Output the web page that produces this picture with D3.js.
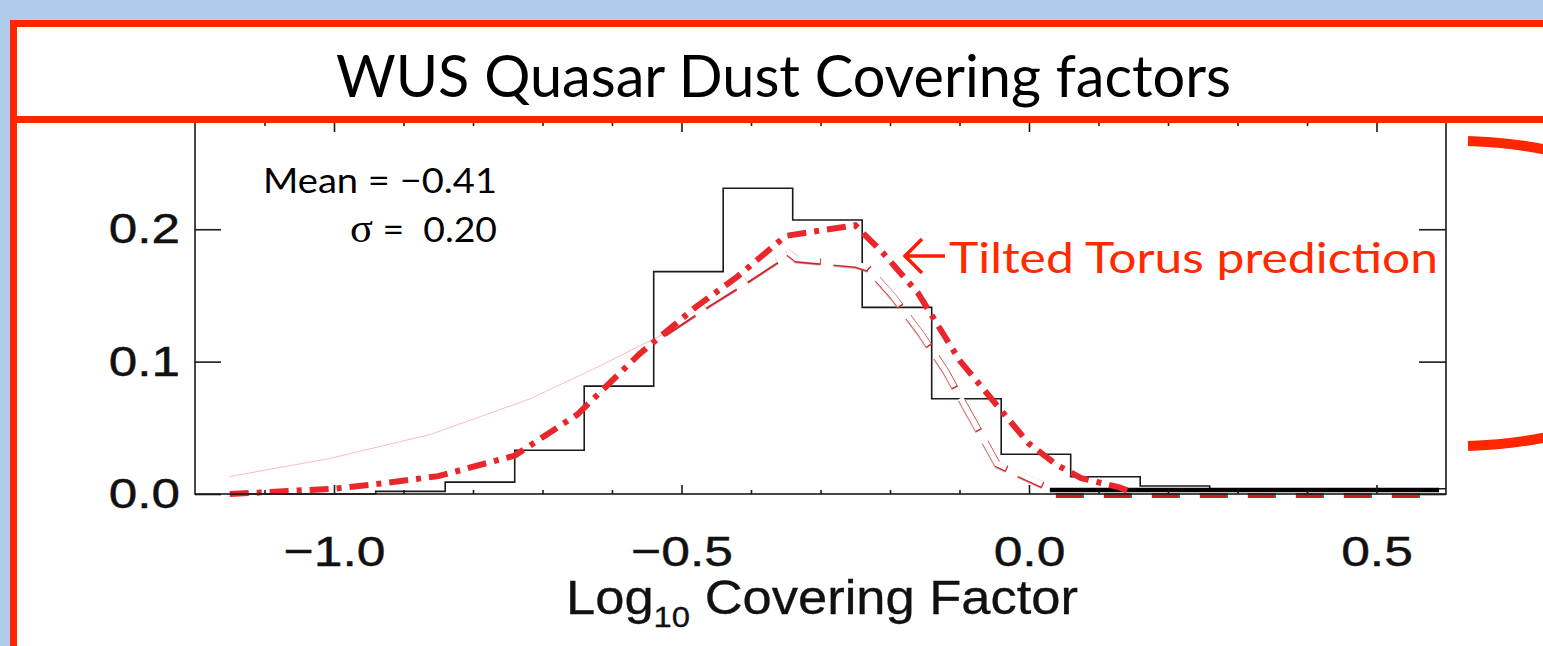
<!DOCTYPE html>
<html>
<head>
<meta charset="utf-8">
<script src="https://cdn.jsdelivr.net/npm/d3@7"></script>
<style>
  html, body { margin: 0; padding: 0; background: #afcdeb; }
  svg { display: block; }
</style>
</head>
<body>
<script>
// ---------------- data ----------------
const titleText = "WUS Quasar Dust Covering factors";
const xMajorTicks = [-1.0, -0.5, 0.0, 0.5];
const xMinorTicks = [-1.1, -0.9, -0.8, -0.7, -0.6, -0.4, -0.3, -0.2, -0.1, 0.1, 0.2, 0.3, 0.4];
const yTicks = [0.0, 0.1, 0.2];

// histogram: bin left edges and fractions
const binEdges = [-1.14, -1.04, -0.94, -0.84, -0.74, -0.64, -0.54, -0.44, -0.34, -0.24, -0.14, -0.04, 0.06, 0.16, 0.26, 0.36, 0.46, 0.56];
const binValues = [0.0, 0.0, 0.002, 0.009, 0.033, 0.0815, 0.168, 0.231, 0.207, 0.141, 0.072, 0.030, 0.013, 0.006, 0.004, 0.004, 0.004, 0.004];

// Tilted torus prediction (red dash-dot)
const torusX = [-1.15, -1.0, -0.93, -0.85, -0.74, -0.65, -0.56, -0.48, -0.42, -0.35, -0.30, -0.25, -0.21, -0.16, -0.12, -0.10, -0.04, 0.0, 0.04, 0.075, 0.13, 0.15];
const torusY = [0.0, 0.004, 0.008, 0.0135, 0.029, 0.060, 0.106, 0.141, 0.164, 0.195, 0.199, 0.203, 0.182, 0.152, 0.118, 0.101, 0.063, 0.038, 0.022, 0.012, 0.005, 0.001];

// whited-out fitted curve
const whiteX = [-1.15, -1.006, -0.862, -0.718, -0.621, -0.526, -0.46, -0.405, -0.347, -0.335, -0.25, -0.232, -0.195, -0.156, -0.12, -0.099, -0.046, 0.019];
const whiteY = [0.0143, 0.028, 0.046, 0.073, 0.097, 0.122, 0.145, 0.163, 0.183, 0.178, 0.174, 0.171, 0.149, 0.1215, 0.093, 0.073, 0.023, 0.0075];

// flat lines at the right end of the axis
const blackLineX = [0.03, 0.59];
const blackLineY = [0.003, 0.003];
const redDashX = [0.03, 0.59];
const redDashY = [-0.0012, -0.0012];

const meanLabel = "Mean = \u22120.41";
const sigmaValue = "\u00a0=\u00a0\u00a00.20";
const annotation = "Tilted Torus prediction";

// ---------------- drawing ----------------
const W = 1543, H = 646;
const svg = d3.select("body").append("svg").attr("width", W).attr("height", H);

const RED = "#ff2600";
svg.append("rect").attr("width", W).attr("height", H).attr("fill", "#afcdeb");
svg.append("rect").attr("x", 14).attr("y", 24).attr("width", W).attr("height", H).attr("fill", "#ffffff");

const x = d3.scaleLinear().domain([-1.2, 0.6]).range([195, 1446]);
const y = d3.scaleLinear().domain([0, 0.281]).range([494, 122]);

const plot = svg.append("g");

function stretchText(sel, factor) {
  sel.each(function () {
    const L = this.getComputedTextLength();
    d3.select(this).attr("textLength", L * factor).attr("lengthAdjust", "spacingAndGlyphs");
  });
}

// histogram
const histData = binEdges.map((e, i) => ({ x: e, y: binValues[i] }));
histData.push({ x: 0.6, y: binValues[binValues.length - 1] });
plot.append("path")
  .attr("d", d3.line().x(d => x(d.x)).y(d => y(d.y)).curve(d3.curveStepAfter)(histData))
  .attr("fill", "none").attr("stroke", "#1a1a1a").attr("stroke-width", 1.6);

// whited-out curve
const whiteData = whiteX.map((v, i) => ({ x: v, y: whiteY[i] }));
const leftPart = whiteData.filter(d => d.x <= -0.526);
const rightPart = whiteData.filter(d => d.x >= -0.526);
const lineGen = d3.line().x(d => x(d.x)).y(d => y(d.y));
plot.append("path").attr("d", lineGen(leftPart))
  .attr("fill", "none").attr("stroke", "#f07070").attr("stroke-width", 1).attr("opacity", 0.45)
  .attr("transform", "translate(0,1.5)");
plot.append("path").attr("d", lineGen(rightPart))
  .attr("fill", "none").attr("stroke", "#b8737a").attr("stroke-width", 7.5)
  .attr("stroke-dasharray", "36,13").attr("opacity", 0.55).attr("transform", "translate(0.5,1.5)");
plot.append("path").attr("d", lineGen(rightPart))
  .attr("fill", "none").attr("stroke", "#d0262b").attr("stroke-width", 6.5)
  .attr("stroke-dasharray", "36,13").attr("transform", "translate(0.8,1.2)");
plot.append("path").attr("d", lineGen(rightPart))
  .attr("fill", "none").attr("stroke", "#ffffff").attr("stroke-width", 5.5)
  .attr("stroke-dasharray", "36,13");

// flat thick black line
const blackData = blackLineX.map((v, i) => ({ x: v, y: blackLineY[i] }));
plot.append("path").attr("d", lineGen(blackData))
  .attr("fill", "none").attr("stroke", "#000").attr("stroke-width", 4.5);

// red dashed flat line
const redDashData = redDashX.map((v, i) => ({ x: v, y: redDashY[i] }));
plot.append("path").attr("d", lineGen(redDashData))
  .attr("fill", "none").attr("stroke", "#c41f26").attr("stroke-width", 5)
  .attr("stroke-dasharray", "28,20").attr("stroke-dashoffset", -6);

// tilted torus dash-dot
const torusData = torusX.map((v, i) => ({ x: v, y: torusY[i] }));
plot.append("path").attr("d", lineGen(torusData))
  .attr("fill", "none").attr("stroke", "#e8262c").attr("stroke-width", 6)
  .attr("stroke-dasharray", "19,8,5,8");

// axes box
const axisColor = "#1a1a1a";
plot.append("rect").attr("x", x(-1.2)).attr("y", y(0.281))
  .attr("width", x(0.6) - x(-1.2)).attr("height", y(0) - y(0.281))
  .attr("fill", "none").attr("stroke", axisColor).attr("stroke-width", 1.6);

function styleAxis(g) {
  g.select(".domain").remove();
  g.selectAll(".tick line").attr("stroke", axisColor).attr("stroke-width", 1.6);
}
function styleLabels(sel, size) {
  sel.attr("font-family", "'Liberation Sans', Arial, sans-serif").attr("font-size", size)
    .attr("fill", "#111").attr("stroke", "#111").attr("stroke-width", 0.45);
}

// bottom major with labels
const gxb = plot.append("g").attr("transform", `translate(0,${y(0)})`)
  .call(d3.axisBottom(x).tickValues(xMajorTicks).tickSize(-9).tickPadding(41).tickFormat(d3.format(".1f")));
styleAxis(gxb);
styleLabels(gxb.selectAll("text"), 43);
stretchText(gxb.selectAll("text"), 1.2);
styleAxis(plot.append("g").attr("transform", `translate(0,${y(0)})`)
  .call(d3.axisBottom(x).tickValues(xMinorTicks).tickSize(-4).tickFormat("")));
styleAxis(plot.append("g").attr("transform", `translate(0,${y(0.281)})`)
  .call(d3.axisTop(x).tickValues(xMajorTicks).tickSize(-10).tickFormat("")));
styleAxis(plot.append("g").attr("transform", `translate(0,${y(0.281)})`)
  .call(d3.axisTop(x).tickValues(xMinorTicks).tickSize(-4).tickFormat("")));

// left axis
const gyl = plot.append("g").attr("transform", `translate(${x(-1.2)},0)`)
  .call(d3.axisLeft(y).tickValues(yTicks).tickSize(-26).tickPadding(15).tickFormat(d3.format(".1f")));
styleAxis(gyl);
styleLabels(gyl.selectAll("text"), 42);
stretchText(gyl.selectAll("text"), 1.22);
styleAxis(plot.append("g").attr("transform", `translate(${x(0.6)},0)`)
  .call(d3.axisRight(y).tickValues(yTicks).tickSize(-27).tickFormat("")));

// x axis title
const xt = svg.append("text").attr("x", 566).attr("y", 614)
  .attr("font-family", "'Liberation Sans', Arial, sans-serif").attr("font-size", 48).attr("fill", "#111")
  .attr("stroke", "#111").attr("stroke-width", 0.3)
  .attr("textLength", 512).attr("lengthAdjust", "spacingAndGlyphs");
xt.append("tspan").text("Log");
xt.append("tspan").attr("font-size", 30).attr("dy", 13).text("10");
xt.append("tspan").attr("dy", -13).text(" Covering Factor");

// stats text
svg.append("text").attr("x", 263).attr("y", 193)
  .attr("font-family", "Lato, 'Open Sans', sans-serif").attr("font-size", 35).attr("fill", "#000")
  .attr("textLength", 234).attr("lengthAdjust", "spacingAndGlyphs").text(meanLabel);
const st = svg.append("text").attr("x", 350).attr("y", 242)
  .attr("font-family", "Lato, 'Open Sans', sans-serif").attr("font-size", 35).attr("fill", "#000")
  .attr("textLength", 147).attr("lengthAdjust", "spacingAndGlyphs");
st.append("tspan").attr("font-family", "'Liberation Serif', 'DejaVu Serif', serif").attr("font-size", 40).text("\u03c3");
st.append("tspan").text(sigmaValue);

// annotation arrow and text
const ann = svg.append("g").attr("stroke", "#ff1a00").attr("stroke-width", 3.5).attr("fill", "none");
ann.append("path").attr("d", "M906,256 L945,256");
ann.append("path").attr("d", "M922,239 L905,256 L922,273");
svg.append("text").attr("x", 949).attr("y", 273)
  .attr("font-family", "Lato, 'Open Sans', sans-serif").attr("font-size", 43).attr("fill", "#ff2a00")
  .attr("textLength", 489).attr("lengthAdjust", "spacingAndGlyphs").text(annotation);

// right red bracket
svg.append("path")
  .attr("d", "M1468,141 C1600,145 1720,200 1725,293 C1720,386 1600,442 1468,446")
  .attr("fill", "none").attr("stroke", RED).attr("stroke-width", 10);

// frame: left border and title box
svg.append("line").attr("x1", 13.5).attr("x2", 13.5).attr("y1", 20).attr("y2", H)
  .attr("stroke", RED).attr("stroke-width", 7);
svg.append("rect").attr("x", 13.5).attr("y", 23.5).attr("width", 1700).attr("height", 96)
  .attr("fill", "#ffffff").attr("stroke", RED).attr("stroke-width", 7);
svg.append("text").attr("x", 336).attr("y", 97)
  .attr("font-family", "Lato, 'Open Sans', sans-serif").attr("font-size", 58).attr("fill", "#000")
  .attr("textLength", 895).attr("lengthAdjust", "spacingAndGlyphs").text(titleText);
</script>
</body>
</html>
